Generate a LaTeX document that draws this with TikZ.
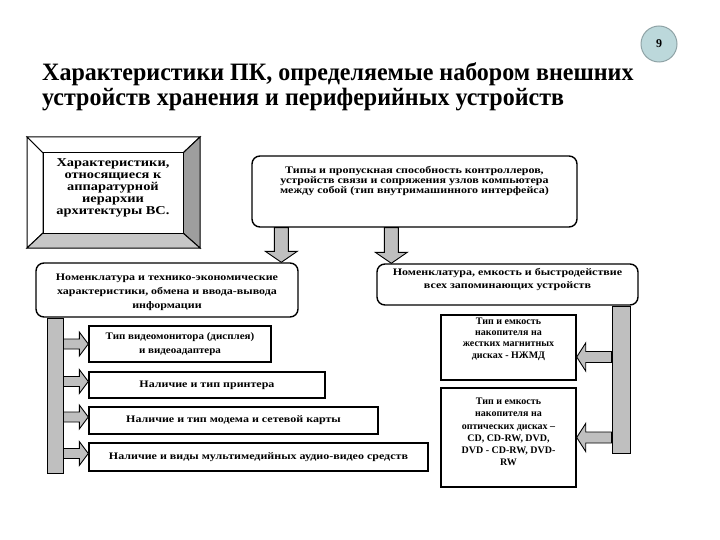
\documentclass[tikz,border=0pt]{standalone}
\usepackage{fontspec}
\setmainfont{Liberation Serif}
\newfontfamily\widefont{Liberation Serif}[FakeStretch=1.2]
\newfontfamily\midfont{Liberation Serif}[FakeStretch=1.1]
\newfontfamily\titlefont{Liberation Serif}[FakeStretch=0.96]
\usetikzlibrary{calc}
\definecolor{barGray}{gray}{0.75}
\definecolor{bevelDark}{gray}{0.62}
\definecolor{bevelMid}{gray}{0.78}
\definecolor{badgeFill}{HTML}{BCD8DB}
\definecolor{badgeLine}{HTML}{8FA3A6}
\newcommand\arrowH[5]{%
 \filldraw[fat] let \p1=(#1), \p2=(#2), \n1={#5} in
  (\x1,\y2+#3) -- ({\x2-\n1},\y2+#3) -- ({\x2-\n1},\y2+#4) -- (\x2,\y2)
  -- ({\x2-\n1},\y2-#4) -- ({\x2-\n1},\y2-#3) -- (\x1,\y2-#3) -- cycle;}
\newcommand\arrowV[2]{%
 \filldraw[fat] let \p1=(#1), \p2=(#2) in
  (\x1-7pt,\y1) -- (\x1+7pt,\y1) -- (\x1+7pt,\y2+11pt) -- (\x1+16pt,\y2+11pt)
  -- (\x1,\y2) -- (\x1-16pt,\y2+11pt) -- (\x1-7pt,\y2+11pt) -- cycle;}
\begin{document}
\begin{tikzpicture}[x=1pt,y=-1pt,
  box/.style={draw=black, line width=1.4pt, fill=white, align=center, inner sep=0pt,
    font=\widefont\bfseries\fontsize{10}{12}\selectfont},
  rbox/.style={box, rounded corners=8pt},
  txt/.style={align=center, inner sep=0pt, font=\widefont\bfseries\fontsize{10}{10}\selectfont},
  rtxt/.style={align=center, inner sep=0pt},
  fat/.style={draw=black, line width=0.9pt, fill=barGray},
  bar/.style={draw=black, line width=0.9pt, fill=barGray, inner sep=0pt},
  bevel/.style={draw=black, line width=1pt}]
\useasboundingbox (0,0) rectangle (720,540);
\fill[white] (0,0) rectangle (720,540);
% badge
\node[circle, draw=badgeLine, line width=1pt, fill=badgeFill, minimum size=36pt, inner sep=0pt,
  font=\bfseries\fontsize{12}{12}\selectfont] (badge) at (659,44) {9};
% title
\node[anchor=north west, align=left, inner sep=0pt,
  font=\titlefont\bfseries\fontsize{25}{25}\selectfont] (title) at (42,62)
  {Характеристики ПК, определяемые набором внешних\\устройств хранения и периферийных устройств};
% box1 bevel frame
\filldraw[bevel, fill=white] (27,137) -- (200,137) -- (183,153) -- (43,153) -- cycle;
\filldraw[bevel, fill=white] (27,137) -- (43,153) -- (43,233) -- (27,248) -- cycle;
\filldraw[bevel, fill=bevelDark] (200,137) -- (200,248) -- (183,233) -- (183,153) -- cycle;
\filldraw[bevel, fill=bevelMid] (27,248) -- (200,248) -- (183,233) -- (43,233) -- cycle;
\node[box, line width=1pt, minimum width=140pt, minimum height=80pt] (box1) at (113,193) {};
\node[txt, font=\widefont\bfseries\fontsize{12}{12}\selectfont] (box1t) at (113,188)
  {Характеристики,\\относящиеся к\\аппаратурной\\иерархии\\архитектуры ВС.};
% box2
\node[rbox, minimum width=325pt, minimum height=71pt] (box2) at (414.5,191.5) {};
\node[txt] (box2t) at (414.5,181)
  {Типы и пропускная способность контроллеров,\\устройств связи и сопряжения узлов компьютера\\между собой (тип внутримашинного интерфейса)};
% box3, box4
\node[rbox, minimum width=262pt, minimum height=54pt] (box3) at (167,290) {};
\node[txt, font=\widefont\bfseries\fontsize{10}{14}\selectfont] (box3t) at (167,292.5)
  {Номенклатура и технико-экономические\\характеристики, обмена и ввода-вывода\\информации};
\node[rbox, minimum width=261pt, minimum height=41pt] (box4) at (507.5,284.5) {};
\node[txt, font=\widefont\bfseries\fontsize{10}{13}\selectfont] (box4t) at (507.5,279.5)
  {Номенклатура, емкость и быстродействие\\всех запоминающих устройств};
\arrowV{[xshift=30pt]box2.south west}{box3.north}
\arrowV{[xshift=140pt]box2.south west}{box4.north}
% left items
\node[box, minimum width=182pt, minimum height=36pt,
  font=\midfont\bfseries\fontsize{10}{14}\selectfont] (i1) at (180,344)
  {Тип видеомонитора (дисплея)\\и видеоадаптера};
\node[box, minimum width=236pt, minimum height=26pt] (i2) at (207,385)
  {Наличие и тип принтера};
\node[box, minimum width=289pt, minimum height=27pt] (i3) at (233.5,420.5)
  {Наличие и тип модема и сетевой карты};
\node[box, minimum width=339pt, minimum height=28pt] (i4) at (258.5,457)
  {Наличие и виды мультимедийных аудио-видео средств};
% right items
\node[box, minimum width=135pt, minimum height=65pt] (i5) at (508.5,347.5) {};
\node[rtxt, font=\bfseries\fontsize{10}{11.3}\selectfont] (i5t) at (508.5,339)
  {Тип и емкость\\накопителя на\\жестких магнитных\\дисках - НЖМД};
\node[box, minimum width=135pt, minimum height=99pt] (i6) at (508.5,437.5) {};
\node[rtxt, font=\bfseries\fontsize{10}{12.2}\selectfont] (i6t) at (508.5,432)
  {Тип и емкость\\накопителя на\\оптических дисках –\\CD, CD-RW, DVD,\\DVD - CD-RW, DVD-\\RW};
% bars
\node[bar, minimum width=16pt, minimum height=155pt, anchor=north] (lbar) at ([xshift=-112pt]box3.south) {};
\node[bar, minimum width=18pt, minimum height=147pt, anchor=north] (rbar) at ([xshift=113.5pt]box4.south) {};
% side arrows
\arrowH{lbar.east}{[yshift=0pt]i1.west}{5pt}{12pt}{9pt}
\arrowH{lbar.east}{[yshift=3.5pt]i2.west}{5pt}{12pt}{9pt}
\arrowH{lbar.east}{[yshift=3.5pt]i3.west}{5pt}{12pt}{9pt}
\arrowH{lbar.east}{[yshift=3.5pt]i4.west}{5pt}{12pt}{9pt}
\arrowH{rbar.west}{[yshift=-9.5pt]i5.east}{5.5pt}{14pt}{-9pt}
\arrowH{rbar.west}{i6.east}{5.5pt}{14pt}{-9pt}
\end{tikzpicture}
\end{document}
